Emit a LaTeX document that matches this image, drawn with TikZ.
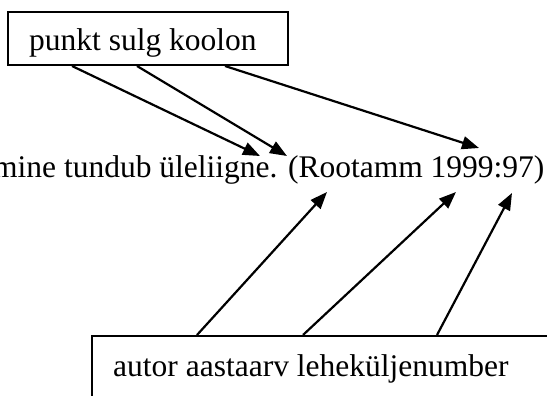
\documentclass[tikz,border=0pt]{standalone}
\usepackage{fontspec}
\setmainfont{Liberation Serif}
\usetikzlibrary{arrows.meta}
\begin{document}
\begin{tikzpicture}[x=1pt,y=-1pt,
  frame/.style={draw,line width=2pt,inner sep=0pt,anchor=north west},
  txt/.style={inner sep=0pt,anchor=base west,font=\fontsize{31.5pt}{36pt}\selectfont},
  pointer/.style={line width=2.2pt,-{Triangle[length=17pt,width=13pt]}}]
\useasboundingbox (0,0) rectangle (547,396);
\clip (0,0) rectangle (547,396);
% top box
\node[frame,minimum width=280pt,minimum height=53pt] (top) at (7,11) {};
\node[txt] (toptext) at (29,51) {punkt sulg koolon};
% sentence
\node[txt] (sentence) at (-7,178) {mine tundub üleliigne. (Rootamm 1999:97)};
% bottom box
\node[frame,minimum width=520pt,minimum height=120pt] (bot) at (91,335) {};
\node[txt] (bottext) at (113,376) {autor aastaarv leheküljenumber};
% targets
\coordinate (t1) at (260,156);
\coordinate (t2) at (287,156);
\coordinate (t3) at (479,148);
\coordinate (b1) at (327,192);
\coordinate (b2) at (456,192);
\coordinate (b3) at (512,193);
% sources
\coordinate (s1) at ([xshift=65pt]top.south west);
\coordinate (s2) at ([xshift=130pt]top.south west);
\coordinate (s3) at ([xshift=218pt]top.south west);
\coordinate (u1) at ([xshift=106pt]bot.north west);
\coordinate (u2) at ([xshift=212pt]bot.north west);
\coordinate (u3) at ([xshift=346pt]bot.north west);
\draw[pointer] (s1) -- (t1);
\draw[pointer] (s2) -- (t2);
\draw[pointer] (s3) -- (t3);
\draw[pointer] (u1) -- (b1);
\draw[pointer] (u2) -- (b2);
\draw[pointer] (u3) -- (b3);
\end{tikzpicture}
\end{document}
